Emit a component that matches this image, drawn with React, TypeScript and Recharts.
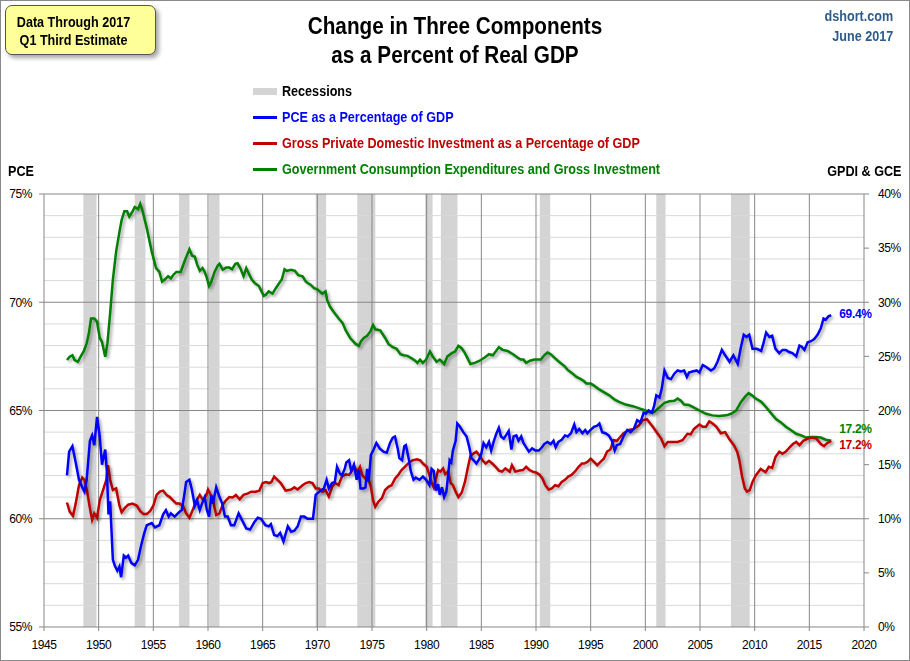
import React from 'react';
import { LineChart, Line, XAxis, YAxis, ReferenceArea, ReferenceLine } from 'recharts';

// ---------- data ----------
const pceYears = [1947.1,1947.3,1947.6,1947.9,1948.2,1948.5,1948.7,1948.9,1949.2,1949.4,1949.6,1949.85,1950.1,1950.3,1950.6,1950.75,1950.9,1951.05,1951.3,1951.5,1951.7,1951.9,1952.05,1952.3,1952.5,1952.7,1953.0,1953.3,1953.6,1953.9,1954.15,1954.4,1954.85,1955.15,1955.55,1955.9,1956.15,1956.4,1956.6,1956.95,1957.35,1957.6,1957.8,1958.0,1958.3,1958.5,1958.8,1959.0,1959.25,1959.45,1959.7,1959.9,1960.1,1960.3,1960.45,1960.75,1961.05,1961.3,1961.55,1961.8,1962.1,1962.4,1962.8,1963.1,1963.5,1963.85,1964.25,1964.55,1964.85,1965.25,1965.55,1965.75,1966.05,1966.35,1966.6,1966.9,1967.3,1967.6,1967.9,1968.2,1968.5,1968.8,1969.1,1969.4,1969.6,1969.85,1970.3,1970.6,1970.85,1971.05,1971.35,1971.6,1971.8,1972.05,1972.25,1972.5,1972.65,1972.9,1973.1,1973.35,1973.6,1973.8,1973.95,1974.2,1974.4,1974.55,1974.7,1974.9,1975.15,1975.4,1975.7,1976.05,1976.35,1976.65,1976.9,1977.1,1977.35,1977.5,1977.75,1977.95,1978.1,1978.35,1978.55,1978.8,1979.0,1979.35,1979.65,1979.95,1980.25,1980.45,1980.65,1980.85,1981.05,1981.2,1981.4,1981.6,1981.8,1981.95,1982.1,1982.25,1982.4,1982.65,1982.8,1983.05,1983.35,1983.65,1983.9,1984.1,1984.3,1984.55,1984.8,1985.0,1985.2,1985.45,1985.7,1985.9,1986.15,1986.35,1986.6,1986.8,1987.05,1987.25,1987.5,1987.75,1987.95,1988.2,1988.4,1988.65,1988.85,1989.1,1989.35,1989.65,1989.95,1990.25,1990.55,1990.75,1991.05,1991.35,1991.6,1991.8,1992.05,1992.35,1992.65,1992.9,1993.2,1993.5,1993.7,1993.95,1994.25,1994.5,1994.7,1995.0,1995.3,1995.6,1995.8,1996.05,1996.35,1996.65,1996.95,1997.2,1997.4,1997.7,1998.0,1998.35,1998.65,1998.95,1999.25,1999.55,1999.85,2000.05,2000.3,2000.6,2000.8,2001.0,2001.3,2001.5,2001.75,2002.05,2002.35,2002.65,2002.95,2003.25,2003.55,2003.8,2004.0,2004.3,2004.7,2004.95,2005.25,2005.6,2006.0,2006.3,2006.6,2007.0,2007.3,2007.7,2008.05,2008.45,2008.75,2009.0,2009.25,2009.5,2009.8,2010.2,2010.6,2010.8,2011.05,2011.35,2011.6,2011.9,2012.25,2012.55,2012.85,2013.15,2013.45,2013.8,2014.1,2014.3,2014.55,2014.85,2015.15,2015.45,2015.75,2016.05,2016.3,2016.5,2016.75,2017.0];
const pceValues = [62.0,63.1,63.35,62.6,61.8,61.45,61.25,61.8,63.6,63.85,63.4,64.7,63.8,62.5,63.2,62.2,60.2,60.8,58.1,57.8,57.6,57.8,57.3,58.3,58.2,58.3,57.95,57.85,58.1,58.8,59.3,59.7,59.8,59.6,59.7,60.2,60.4,60.1,60.25,60.1,60.3,60.4,61.0,61.7,61.8,61.4,60.6,60.85,60.4,60.7,61.0,60.4,60.1,61.1,60.7,61.45,61.0,60.7,60.1,60.1,59.7,59.7,60.25,59.95,59.55,59.5,59.85,60.05,60.0,59.7,59.65,59.75,59.25,59.2,59.35,58.95,59.65,59.4,59.45,59.65,60.1,60.1,60.0,60.0,60.0,61.1,61.3,61.4,61.8,61.4,61.65,61.7,62.4,62.1,62.0,62.3,62.6,62.7,62.2,62.5,61.8,62.25,61.4,61.4,61.45,62.3,61.7,62.95,63.2,63.5,63.25,63.1,63.05,63.5,63.75,63.8,63.25,62.8,62.7,63.35,63.4,62.8,62.2,61.8,61.9,61.8,61.95,61.8,61.55,62.3,62.2,61.3,61.6,61.1,61.45,61.0,61.25,61.95,62.7,62.6,63.15,63.6,64.4,64.25,64.0,63.8,63.3,62.8,62.7,62.55,62.75,63.0,63.5,63.3,63.55,63.15,63.6,63.9,64.2,63.8,63.7,63.85,64.05,63.2,63.8,63.85,63.6,63.8,63.5,63.3,63.1,63.25,63.15,63.15,63.3,63.45,63.55,63.45,63.6,63.3,63.55,63.65,63.85,63.8,63.95,64.35,64.0,64.15,63.95,64.1,63.95,64.1,64.25,64.3,64.4,64.0,63.95,63.85,63.6,63.15,63.4,63.45,63.8,64.1,64.0,64.15,64.55,64.45,64.9,64.85,65.0,64.9,65.2,65.7,65.6,66.0,66.85,66.5,66.45,66.7,66.85,66.8,66.85,66.55,66.75,66.8,66.85,66.75,67.1,67.0,66.85,66.95,67.25,67.8,67.55,67.25,67.55,67.15,67.95,68.5,68.4,68.5,67.85,67.85,67.75,68.1,68.6,68.4,68.45,67.85,67.65,67.8,67.8,67.7,67.65,67.5,68.0,67.95,67.8,68.15,68.2,68.3,68.5,68.8,69.25,69.2,69.35,69.4];

const gpdiYears = [1947.1,1947.35,1947.65,1947.9,1948.2,1948.5,1948.7,1948.95,1949.2,1949.4,1949.6,1949.85,1950.1,1950.45,1950.7,1950.85,1951.05,1951.3,1951.6,1951.9,1952.1,1952.4,1952.7,1953.1,1953.5,1953.8,1954.1,1954.4,1954.7,1955.0,1955.3,1955.6,1955.9,1956.2,1956.5,1956.8,1957.1,1957.4,1957.7,1958.0,1958.3,1958.6,1958.9,1959.25,1959.55,1959.85,1960.0,1960.2,1960.45,1960.75,1961.05,1961.35,1961.65,1961.95,1962.25,1962.55,1962.9,1963.25,1963.65,1963.95,1964.35,1964.7,1965.0,1965.3,1965.6,1965.8,1966.05,1966.35,1966.65,1967.1,1967.6,1967.9,1968.2,1968.65,1968.95,1969.25,1969.55,1969.85,1970.15,1970.45,1970.75,1971.05,1971.35,1971.65,1971.95,1972.25,1972.6,1972.9,1973.2,1973.4,1973.65,1973.9,1974.1,1974.4,1974.7,1974.9,1975.1,1975.3,1975.6,1975.9,1976.2,1976.5,1976.8,1977.1,1977.4,1977.7,1978.0,1978.4,1978.7,1979.1,1979.4,1979.7,1980.0,1980.25,1980.45,1980.65,1980.85,1981.05,1981.25,1981.5,1981.7,1981.95,1982.2,1982.4,1982.65,1982.9,1983.2,1983.5,1983.75,1984.0,1984.25,1984.55,1984.8,1985.1,1985.4,1985.7,1986.0,1986.3,1986.6,1986.9,1987.2,1987.6,1987.8,1988.1,1988.5,1988.8,1989.1,1989.4,1989.7,1990.05,1990.35,1990.6,1990.85,1991.15,1991.45,1991.75,1992.05,1992.35,1992.65,1992.95,1993.25,1993.55,1993.9,1994.2,1994.4,1994.7,1995.0,1995.3,1995.6,1995.9,1996.2,1996.5,1996.8,1997.1,1997.4,1997.7,1998.0,1998.5,1998.95,1999.4,1999.75,2000.15,2000.45,2000.75,2001.1,2001.45,2001.75,2002.05,2002.5,2002.95,2003.4,2003.85,2004.15,2004.45,2004.95,2005.25,2005.55,2005.85,2006.15,2006.5,2006.9,2007.3,2007.65,2008.1,2008.4,2008.6,2008.85,2009.1,2009.3,2009.55,2009.8,2010.1,2010.55,2011.0,2011.3,2011.6,2011.9,2012.25,2012.55,2012.85,2013.2,2013.5,2013.8,2014.1,2014.45,2014.85,2015.25,2015.65,2016.05,2016.35,2016.65,2017.0];
const gpdiValues = [11.5,10.66,10.26,11.4,13.1,13.8,13.6,12.5,11.0,9.9,10.5,10.1,11.7,12.8,13.6,14.95,13.6,12.65,12.8,11.2,10.6,11.0,11.3,11.4,11.2,10.7,10.45,10.45,10.7,11.2,12.2,12.5,12.6,12.2,12.0,11.7,11.4,11.4,11.2,10.5,10.1,10.8,11.6,12.2,11.7,12.2,12.7,12.3,11.7,10.35,10.5,11.3,11.7,12.0,11.97,12.2,11.8,12.2,12.35,12.5,12.5,12.6,13.3,13.4,13.3,13.4,13.9,13.6,13.3,12.6,12.7,12.9,12.7,13.1,13.3,13.4,13.3,12.8,12.8,12.5,12.65,12.05,12.95,13.3,13.1,13.9,14.1,14.05,14.5,14.8,14.35,14.8,14.05,13.7,13.6,12.95,11.7,11.1,11.6,11.9,12.65,12.95,13.1,13.7,14.05,14.5,14.8,15.2,15.4,15.5,15.4,15.05,14.8,14.05,13.35,12.9,13.7,14.5,14.35,14.65,14.1,14.35,13.3,13.1,12.5,12.0,12.4,13.4,14.65,15.8,16.0,16.2,15.9,15.4,15.1,15.35,15.1,14.8,14.45,14.35,14.65,14.35,14.95,14.35,14.45,14.5,14.8,14.5,14.35,14.25,14.05,13.7,13.1,12.7,12.8,13.1,13.0,13.4,13.6,13.9,14.05,14.35,14.8,15.1,15.1,15.25,15.55,15.25,14.95,15.25,15.55,16.2,16.4,17.25,17.2,17.55,17.9,18.2,18.3,18.6,19.1,19.2,18.8,18.4,17.9,17.4,16.7,17.1,17.1,17.1,17.25,17.85,17.8,18.3,18.7,18.5,18.5,19.0,18.8,18.5,17.9,18.0,17.4,16.8,16.2,15.4,13.9,12.8,12.5,12.65,13.4,14.0,14.6,14.3,14.8,14.7,15.7,16.2,16.0,16.2,16.6,16.9,17.1,16.8,17.2,17.4,17.5,17.4,16.9,16.7,17.0,17.2];

const gceYears = [1947.1,1947.35,1947.6,1947.8,1948.1,1948.35,1948.65,1948.9,1949.1,1949.3,1949.6,1949.85,1950.1,1950.3,1950.6,1950.8,1951.05,1951.3,1951.6,1951.9,1952.1,1952.35,1952.6,1952.8,1953.1,1953.3,1953.6,1953.8,1954.0,1954.4,1954.85,1955.25,1955.55,1955.8,1956.05,1956.35,1956.6,1956.8,1957.1,1957.5,1957.9,1958.1,1958.3,1958.55,1958.8,1959.0,1959.25,1959.5,1959.7,1959.85,1960.1,1960.3,1960.6,1960.9,1961.05,1961.35,1961.65,1961.95,1962.2,1962.5,1962.7,1962.95,1963.25,1963.5,1963.8,1964.0,1964.3,1964.65,1964.85,1965.1,1965.3,1965.55,1965.9,1966.2,1966.5,1966.75,1967.0,1967.2,1967.6,1967.95,1968.25,1968.65,1968.95,1969.4,1969.7,1970.0,1970.45,1970.75,1970.9,1971.15,1971.5,1971.95,1972.3,1972.6,1973.0,1973.5,1973.8,1974.0,1974.25,1974.55,1974.85,1975.1,1975.3,1975.75,1976.2,1976.5,1976.9,1977.25,1977.6,1977.9,1978.25,1978.65,1978.95,1979.15,1979.4,1979.65,1979.95,1980.3,1980.55,1980.9,1981.2,1981.6,1981.9,1982.3,1982.6,1982.9,1983.2,1983.5,1983.8,1984.0,1984.4,1984.85,1985.3,1985.7,1986.05,1986.35,1986.6,1986.95,1987.4,1987.9,1988.3,1988.6,1988.85,1989.1,1989.45,1989.85,1990.15,1990.45,1990.75,1991.05,1991.35,1991.65,1992.1,1992.6,1992.9,1993.3,1993.7,1994.1,1994.4,1994.6,1995.0,1995.3,1995.7,1996.2,1996.7,1997.2,1997.6,1998.2,1998.85,1999.45,2000.0,2000.5,2000.8,2001.3,2001.75,2002.2,2002.65,2002.95,2003.25,2003.55,2004.0,2004.5,2004.95,2005.55,2006.15,2006.75,2007.4,2007.85,2008.3,2008.75,2009.15,2009.45,2009.75,2010.1,2010.6,2011.05,2011.5,2011.95,2012.4,2012.85,2013.3,2013.8,2014.25,2014.7,2015.15,2015.6,2016.05,2016.5,2017.0];
const gceValues = [24.66,24.97,25.1,24.66,24.5,24.97,25.5,26.2,27.1,28.5,28.5,28.2,26.7,26.35,24.97,26.2,29.0,32.1,34.7,36.5,37.6,38.4,38.4,37.9,38.4,38.8,38.6,39.1,38.5,36.85,34.7,33.15,32.8,31.9,32.1,32.4,32.2,32.5,32.8,32.8,33.9,34.4,34.9,34.3,34.2,33.5,32.9,33.15,32.8,32.4,31.5,31.9,32.8,33.4,33.55,33.0,33.2,33.2,33.05,33.55,33.6,33.15,32.4,33.15,32.5,32.1,31.75,31.5,31.1,30.6,30.7,31.0,30.8,31.3,31.75,32.1,33.05,32.9,33.0,32.9,32.5,32.4,31.9,31.6,31.3,31.2,30.8,31.0,30.2,29.6,29.1,28.5,28.1,27.4,26.7,26.15,25.97,26.4,26.7,26.9,27.3,27.9,27.5,27.4,26.7,26.15,25.85,25.7,25.2,25.1,25.05,24.8,24.6,24.4,24.7,24.4,24.7,25.45,25.0,24.5,24.7,24.3,25.0,25.3,25.45,25.97,25.75,25.3,24.7,24.3,24.4,24.6,24.9,25.2,25.1,25.5,25.85,25.6,25.5,25.2,24.9,24.7,24.7,24.4,24.6,24.7,24.7,24.7,25.1,25.35,25.2,24.9,24.5,24.1,23.75,23.45,23.1,22.9,22.7,22.5,22.5,22.3,22.0,21.7,21.4,21.0,20.8,20.55,20.4,20.2,20.0,19.8,19.85,20.3,20.7,20.85,20.9,21.1,20.9,20.55,20.5,20.25,20.0,19.7,19.55,19.5,19.55,19.7,20.0,20.8,21.3,21.6,21.4,21.1,20.8,20.3,19.75,19.2,18.9,18.5,18.2,17.85,17.7,17.5,17.55,17.55,17.5,17.3,17.2];

const recessionStarts = [1948.6, 1953.3, 1957.35, 1960.1, 1969.85, 1973.65, 1979.86, 1981.3, 1990.35, 2001.0, 2007.83];
const recessionEnds = [1949.8, 1954.28, 1958.3, 1961.05, 1970.8, 1975.3, 1980.54, 1982.82, 1991.3, 2001.85, 2009.55];

const xTicks = [1945,1950,1955,1960,1965,1970,1975,1980,1985,1990,1995,2000,2005,2010,2015,2020];
const leftTicks = [55,60,65,70,75];
const rightTicks = [0,5,10,15,20,25,30,35,40];
const minorGrid = [56,57,58,59,61,62,63,64,66,67,68,69,71,72,73,74];
const majorGrid = [60,65,70,75];
const verticalGrid = [1950,1955,1960,1965,1970,1975,1980,1985,1990,1995,2000,2005,2010,2015];

const seriesNames = [
  'PCE as a Percentage of GDP',
  'Gross Private Domestic Investment as a Percentage of GDP',
  'Government Consumption Expenditures and Gross Investment',
];

// ---------- helpers ----------
const toData = (years: number[], values: number[]) => years.map((year, i) => ({ year, v: values[i] }));
const pceData = toData(pceYears, pceValues);
const gpdiData = toData(gpdiYears, gpdiValues);
const gceData = toData(gceYears, gceValues);

const FONT = "'Liberation Sans', Arial, sans-serif";
const BLUE = '#0000FF';
const RED = '#C00000';
const GREEN = '#008000';
const GRID_MAJOR = '#878787';
const GRID_MINOR = '#D9D9D9';
const SHADOW = 'drop-shadow(2px 2px 1.5px rgba(0,0,0,0.35))';
const NARROW = 'scaleX(0.9)';

const endLabel = (color: string, lastIndex: number, dy: number) => (props: any) => {
  const { x, y, index, value } = props;
  if (index !== lastIndex) return <g />;
  return (
    <text x={x + 8} y={y + dy} fill={color} fontSize={12} fontWeight="bold" fontFamily={FONT} dominantBaseline="middle" letterSpacing={-0.3}>
      {Number(value).toFixed(1)}%
    </text>
  );
};

export default function App() {
  const tickStyle = { fill: '#000', fontSize: 12, fontFamily: FONT, letterSpacing: -0.4 };
  return (
    <div style={{ position: 'fixed', left: 0, top: 0, width: 910, height: 661, background: '#fff', fontFamily: FONT, overflow: 'hidden' }}>
      <LineChart width={910} height={661} margin={{ top: 194, right: 0, bottom: 0, left: 0 }}>
        <XAxis
          dataKey="year"
          type="number"
          domain={[1945, 2020]}
          ticks={xTicks}
          allowDataOverflow
          height={34}
          tickSize={4}
          tickMargin={9}
          stroke={GRID_MAJOR}
          tick={tickStyle}
        />
        <YAxis
          yAxisId="left"
          domain={[55, 75]}
          ticks={leftTicks}
          width={44}
          tickSize={5}
          tickMargin={7}
          stroke={GRID_MAJOR}
          tickFormatter={(v: number) => `${v}%`}
          tick={tickStyle}
        />
        <YAxis
          yAxisId="right"
          orientation="right"
          domain={[0, 40]}
          ticks={rightTicks}
          width={46}
          tickSize={5}
          tickMargin={9}
          stroke={GRID_MAJOR}
          tickFormatter={(v: number) => `${v}%`}
          tick={tickStyle}
        />
        {recessionStarts.map((s, i) => (
          <ReferenceArea key={`r${i}`} yAxisId="left" x1={s} x2={recessionEnds[i]} fill="#D4D4D4" fillOpacity={1} stroke="none" />
        ))}
        {minorGrid.map((v) => (
          <ReferenceLine key={`mg${v}`} yAxisId="left" y={v} stroke={GRID_MINOR} strokeWidth={1} />
        ))}
        {majorGrid.map((v) => (
          <ReferenceLine key={`Mg${v}`} yAxisId="left" y={v} stroke={GRID_MAJOR} strokeWidth={1} />
        ))}
        {verticalGrid.map((v) => (
          <ReferenceLine key={`vg${v}`} yAxisId="left" x={v} stroke={GRID_MAJOR} strokeWidth={1} />
        ))}
        <Line
          data={gceData}
          yAxisId="right"
          dataKey="v"
          type="linear"
          stroke={GREEN}
          strokeWidth={2.5}
          dot={false}
          isAnimationActive={false}
          style={{ filter: SHADOW }}
          label={endLabel(GREEN, gceData.length - 1, -11)}
        />
        <Line
          data={gpdiData}
          yAxisId="right"
          dataKey="v"
          type="linear"
          stroke={RED}
          strokeWidth={2.5}
          dot={false}
          isAnimationActive={false}
          style={{ filter: SHADOW }}
          label={endLabel(RED, gpdiData.length - 1, 5)}
        />
        <Line
          data={pceData}
          yAxisId="left"
          dataKey="v"
          type="linear"
          stroke={BLUE}
          strokeWidth={2.5}
          dot={false}
          isAnimationActive={false}
          style={{ filter: SHADOW }}
          label={endLabel(BLUE, pceData.length - 1, 0)}
        />
      </LineChart>

      {/* outer border */}
      <div style={{ position: 'absolute', left: 0, top: 0, width: 908, height: 659, border: '1px solid #8a8a8a', pointerEvents: 'none' }} />

      {/* note box */}
      <div
        style={{
          position: 'absolute', left: 5, top: 5, width: 151, height: 50, background: '#FFFF99',
          border: '1px solid #555', borderRadius: 7, boxShadow: '3px 3px 4px rgba(0,0,0,0.35)',
          fontWeight: 'bold', fontSize: 14, color: '#000', textAlign: 'center', lineHeight: '18px',
          paddingTop: 7, boxSizing: 'border-box', paddingRight: 14,
        }}
      >
        <div style={{ transform: NARROW }}>Data Through 2017</div>
        <div style={{ transform: NARROW }}>Q1 Third Estimate</div>
      </div>

      {/* title */}
      <div style={{ position: 'absolute', left: 0, width: 910, top: 12, textAlign: 'center', fontWeight: 'bold', fontSize: 23, lineHeight: '29px', color: '#000' }}>
        <div style={{ transform: NARROW }}>Change in Three Components</div>
        <div style={{ transform: NARROW }}>as a Percent of Real GDP</div>
      </div>

      {/* source */}
      <div style={{ position: 'absolute', right: 17, top: 6, textAlign: 'right', fontSize: 14, fontWeight: 'bold', color: '#2E5C8A', lineHeight: '20px', transform: NARROW, transformOrigin: 'right center' }}>
        <div>dshort.com</div>
        <div>June 2017</div>
      </div>

      {/* legend */}
      <div style={{ position: 'absolute', left: 253, top: 82, fontSize: 14, fontWeight: 'bold', lineHeight: '19px' }}>
        <div style={{ display: 'flex', alignItems: 'center', height: 19, marginBottom: 7 }}>
          <span style={{ display: 'inline-block', width: 24, height: 7, background: '#D4D4D4', marginRight: 5 }} />
          <span style={{ color: '#000', display: 'inline-block', transform: NARROW, transformOrigin: 'left center', whiteSpace: 'nowrap' }}>Recessions</span>
        </div>
        {[BLUE, RED, GREEN].map((c, i) => (
          <div key={c} style={{ display: 'flex', alignItems: 'center', height: 19, marginBottom: 7 }}>
            <span style={{ display: 'inline-block', width: 24, height: 3, background: c, marginRight: 5 }} />
            <span style={{ color: c, display: 'inline-block', transform: NARROW, transformOrigin: 'left center', whiteSpace: 'nowrap' }}>{seriesNames[i]}</span>
          </div>
        ))}
      </div>

      {/* axis titles */}
      <div style={{ position: 'absolute', left: 8, top: 163, fontSize: 14, fontWeight: 'bold', color: '#000', transform: NARROW, transformOrigin: 'left center' }}>PCE</div>
      <div style={{ position: 'absolute', right: 9, top: 163, fontSize: 14, fontWeight: 'bold', color: '#000', transform: NARROW, transformOrigin: 'right center', whiteSpace: 'nowrap' }}>GPDI &amp; GCE</div>
    </div>
  );
}
